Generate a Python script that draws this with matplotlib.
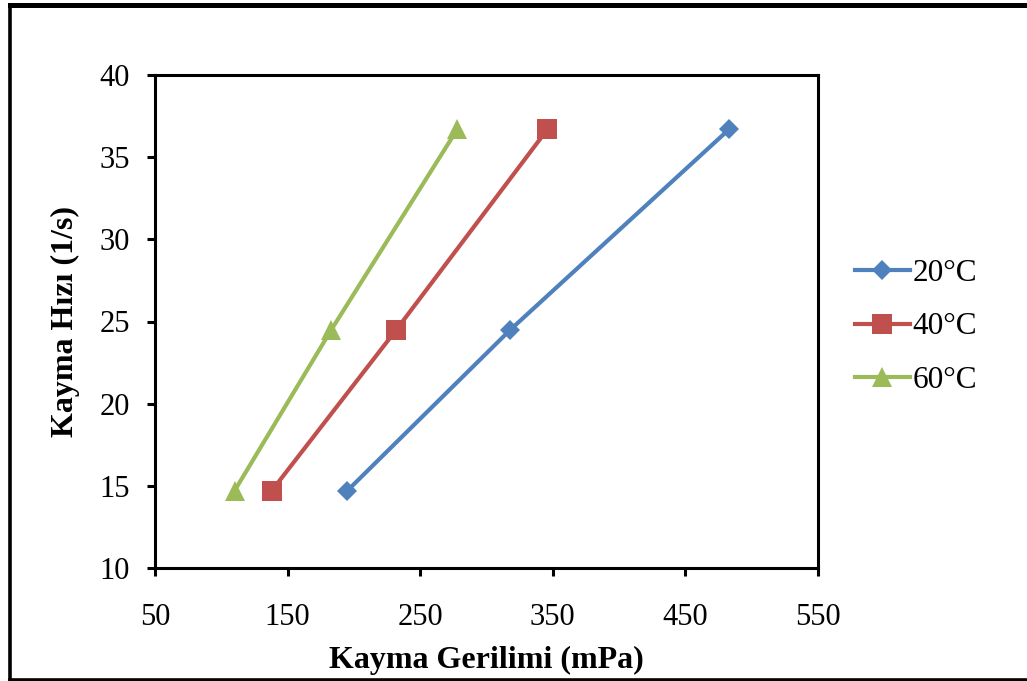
import matplotlib
matplotlib.use("Agg")
import matplotlib.pyplot as plt
from matplotlib.lines import Line2D

plt.rcParams['font.family'] = ['Liberation Serif', 'DejaVu Serif']

shear_rate = [14.7, 24.5, 36.7]
stress_20 = [195, 318, 483]
stress_40 = [138, 232, 346]
stress_60 = [110, 183, 278]
labels = ['20°C', '40°C', '60°C']
colors = ['#4F81BD', '#C0504D', '#9BBB59']
markers = ['D', 's', '^']
msizes = [10.5, 14, 14]
xticks = [50, 150, 250, 350, 450, 550]
yticks = [10, 15, 20, 25, 30, 35, 40]

fig = plt.figure(figsize=(10.27, 6.81), dpi=100)
ax = fig.add_axes([155/1027, 1-568/681, (818-155)/1027, (568-75)/681])

for xs, lab, c, m, ms in zip([stress_20, stress_40, stress_60], labels, colors, markers, msizes):
    ax.plot(xs, shear_rate, color=c, lw=3.0, marker=m, markersize=ms, label=lab,
            markeredgewidth=0)

ax.set_xlim(50, 550)
ax.set_ylim(10, 40)
ax.set_xticks(xticks)
ax.set_yticks(yticks)
ax.tick_params(axis='both', direction='out', length=6, width=2.2, labelsize=22)
ax.tick_params(axis='y', pad=12)
ax.tick_params(axis='x', pad=19)
for s in ax.spines.values():
    s.set_linewidth(2.2)

ax.set_xlabel('Kayma Gerilimi (mPa)', fontsize=23, fontweight='bold', labelpad=10)
ax.set_ylabel('Kayma Hızı (1/s)', fontsize=23, fontweight='bold', labelpad=14)

fig.legend(loc='center left', bbox_to_anchor=(855/1027, 1-327/681), frameon=False,
           fontsize=22.5, handlelength=1.75, handletextpad=0.1, labelspacing=0.78,
           borderpad=0, borderaxespad=0)

# outer border (right side extends beyond image)
fig.add_artist(Line2D([9.5/1027, 1.01], [1-4.5/681, 1-4.5/681], color='black', lw=3.6,
                      transform=fig.transFigure, solid_capstyle='projecting'))
fig.add_artist(Line2D([9.5/1027, 9.5/1027], [1-4.5/681, 1-679.5/681], color='black', lw=2.6,
                      transform=fig.transFigure, solid_capstyle='projecting'))
fig.add_artist(Line2D([9.5/1027, 1.01], [1-679.5/681, 1-679.5/681], color='black', lw=2.6,
                      transform=fig.transFigure, solid_capstyle='projecting'))

fig.savefig('out.png', dpi=100)
